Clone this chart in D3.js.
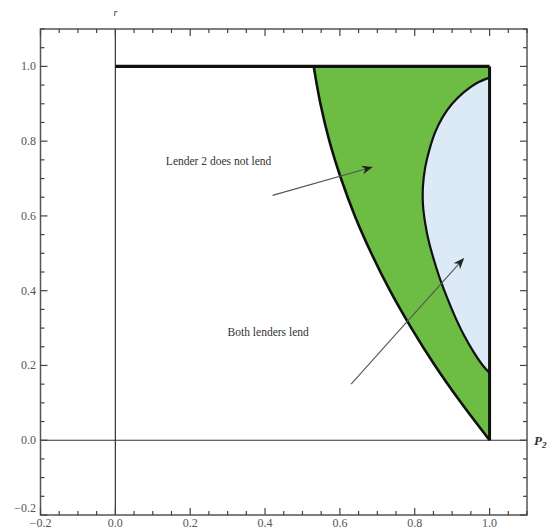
<!DOCTYPE html>
<html><head><meta charset="utf-8">
<script src="https://cdn.jsdelivr.net/npm/d3@7"></script>
<style>body{margin:0;background:#fff}svg{display:block}</style>
</head><body>
<script>
// Data
const xTicks = [-0.2, 0.0, 0.2, 0.4, 0.6, 0.8, 1.0];
const yTicks = [-0.2, 0.0, 0.2, 0.4, 0.6, 0.8, 1.0];
// outer boundary of the "Lender 2 does not lend" region (p2, r)
const outerX = [0.530, 0.548, 0.572, 0.603, 0.640, 0.684, 0.734, 0.791, 0.854, 0.924, 1.0];
const outerY = [1.0, 0.9, 0.8, 0.7, 0.6, 0.5, 0.4, 0.3, 0.2, 0.1, 0.0];
// inner boundary of the "Both lenders lend" region
const innerX = [1.0, 0.965, 0.93, 0.90, 0.875, 0.855, 0.84, 0.828, 0.822, 0.822, 0.828, 0.838, 0.852, 0.868, 0.887, 0.908, 0.932, 0.958, 0.982, 1.0];
const innerY = [0.97, 0.955, 0.93, 0.90, 0.865, 0.825, 0.78, 0.73, 0.68, 0.63, 0.58, 0.53, 0.48, 0.43, 0.38, 0.33, 0.28, 0.235, 0.20, 0.18];
const labels = [
  {text: "Lender 2 does not lend", x: 0.135, y: 0.735, ax0: 0.42, ay0: 0.655, ax1: 0.685, ay1: 0.73},
  {text: "Both lenders lend", x: 0.30, y: 0.28, ax0: 0.63, ay0: 0.15, ax1: 0.93, ay1: 0.485}
];

const W = 548, H = 531;
const x = d3.scaleLinear().domain([-0.2, 1.1]).range([40.5, 527]);
const y = d3.scaleLinear().domain([-0.2, 1.1]).range([515, 29]);

const svg = d3.select("body").append("svg").attr("width", W).attr("height", H);

const outer = outerX.map((v, i) => [v, outerY[i]]);
const inner = innerX.map((v, i) => [v, innerY[i]]);
const curve = d3.line().x(d => x(d[0])).y(d => y(d[1])).curve(d3.curveCatmullRom.alpha(0.5));

// green region: top edge, right edge, then back along outer curve
const greenPath = "M" + x(outerX[0]) + "," + y(1) + "L" + x(1) + "," + y(1) + "L" + x(1) + "," + y(0) +
  curve(outer.slice().reverse()).replace(/^M[^CL]*/, "L" + x(1) + "," + y(0)) + "Z";
svg.append("path").attr("d", greenPath).attr("fill", "#6dbd44").attr("stroke", "none");
svg.append("path").attr("d", curve(inner) + "Z").attr("fill", "#dce9f7").attr("stroke", "none");

// axes lines
svg.append("line").attr("x1", x(0)).attr("x2", x(0)).attr("y1", y(1.1)).attr("y2", y(-0.2))
  .attr("stroke", "#333").attr("stroke-width", 1.2);
svg.append("line").attr("x1", x(-0.2)).attr("x2", x(1.1)).attr("y1", y(0)).attr("y2", y(0))
  .attr("stroke", "#333").attr("stroke-width", 1.2);

// boundaries
svg.append("path").attr("d", curve(outer)).attr("fill", "none").attr("stroke", "#111").attr("stroke-width", 2.6);
svg.append("path").attr("d", curve(inner)).attr("fill", "none").attr("stroke", "#111").attr("stroke-width", 2.2);
svg.append("line").attr("x1", x(0)).attr("x2", x(1)).attr("y1", y(1)).attr("y2", y(1))
  .attr("stroke", "#111").attr("stroke-width", 3.2);
svg.append("line").attr("x1", x(1)).attr("x2", x(1)).attr("y1", y(1)).attr("y2", y(0))
  .attr("stroke", "#111").attr("stroke-width", 3);

// frame
svg.append("rect").attr("x", x(-0.2)).attr("y", y(1.1)).attr("width", x(1.1) - x(-0.2)).attr("height", y(-0.2) - y(1.1))
  .attr("fill", "none").attr("stroke", "#555").attr("stroke-width", 1.5);

// ticks
const minor = d3.range(-0.2, 1.1001, 0.05).map(v => +v.toFixed(2));
const g = svg.append("g").attr("stroke", "#444").attr("stroke-width", 1.2);
minor.forEach(v => {
  const isMajor = Math.abs(Math.round(v * 10) % 2) === 0 && Math.abs(v * 10 - Math.round(v * 10)) < 1e-6;
  const len = isMajor ? 7 : 4;
  g.append("line").attr("x1", x(v)).attr("x2", x(v)).attr("y1", y(-0.2)).attr("y2", y(-0.2) - len);
  g.append("line").attr("x1", x(v)).attr("x2", x(v)).attr("y1", y(1.1)).attr("y2", y(1.1) + len);
  g.append("line").attr("y1", y(v)).attr("y2", y(v)).attr("x1", x(-0.2)).attr("x2", x(-0.2) + len);
  g.append("line").attr("y1", y(v)).attr("y2", y(v)).attr("x1", x(1.1)).attr("x2", x(1.1) - len);
});

const tickFont = "'Liberation Serif', 'DejaVu Serif', serif";
svg.append("g").selectAll("text").data(xTicks).join("text")
  .attr("x", d => x(d)).attr("y", 527).attr("text-anchor", "middle")
  .attr("font-family", tickFont).attr("font-size", 12).attr("fill", "#555")
  .text(d => d3.format(".1f")(d).replace("-", "\u2212"));
svg.append("g").selectAll("text").data(yTicks).join("text")
  .attr("x", 36).attr("y", d => Math.min(y(d) + 4, 512)).attr("text-anchor", "end")
  .attr("font-family", tickFont).attr("font-size", 12).attr("fill", "#555")
  .text(d => d3.format(".1f")(d).replace("-", "\u2212"));

// axis labels
svg.append("text").attr("x", x(0)).attr("y", 16).attr("text-anchor", "middle")
  .attr("font-family", tickFont).attr("font-style", "italic").attr("font-size", 10).attr("fill", "#333").text("r");
const p2 = svg.append("text").attr("x", 534).attr("y", y(0) + 5)
  .attr("font-family", tickFont).attr("font-style", "italic").attr("font-weight", "bold").attr("font-size", 13).attr("fill", "#333");
p2.append("tspan").text("P");
p2.append("tspan").attr("font-size", 9).attr("dy", 3).text("2");

// annotations
svg.append("defs").append("marker").attr("id", "ah").attr("viewBox", "0 0 10 10").attr("refX", 9).attr("refY", 5)
  .attr("markerWidth", 11).attr("markerHeight", 11).attr("markerUnits", "userSpaceOnUse").attr("orient", "auto")
  .append("path").attr("d", "M0,1 L10,5 L0,9 L3,5 Z").attr("fill", "#222");
labels.forEach(l => {
  svg.append("text").attr("x", x(l.x)).attr("y", y(l.y)).attr("font-family", tickFont).attr("font-size", 11.5)
    .attr("fill", "#333").text(l.text);
  svg.append("line").attr("x1", x(l.ax0)).attr("y1", y(l.ay0)).attr("x2", x(l.ax1)).attr("y2", y(l.ay1))
    .attr("stroke", "#555").attr("stroke-width", 1.1).attr("marker-end", "url(#ah)");
});
</script>
</body></html>
